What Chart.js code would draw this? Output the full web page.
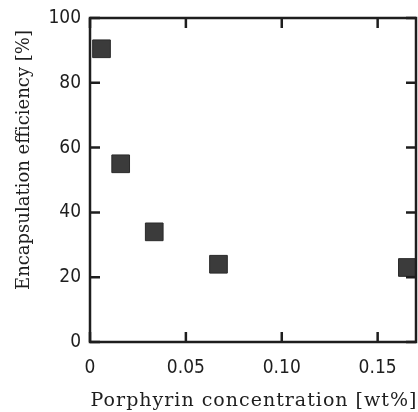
<!DOCTYPE html>
<html>
<head>
<meta charset="utf-8">
<title>Encapsulation efficiency</title>
<script src="https://cdn.jsdelivr.net/npm/chart.js@4"></script>
<style>
  html, body { margin: 0; padding: 0; background: #fff; }
  #wrap { width: 418px; height: 412px; }
</style>
</head>
<body>
<div id="wrap"><canvas id="efficiencyChart" width="418" height="412"></canvas></div>
<script>
// porphyrin loading vs encapsulation efficiency
const concentrations = [0.006, 0.016, 0.0335, 0.067, 0.1655];
const efficiencies = [90.5, 55, 34, 24, 23];

const xTicks = [0, 0.05, 0.10, 0.15];
const xTickLabels = ["0", "0.05", "0.10", "0.15"];
const yTicks = [0, 20, 40, 60, 80, 100];
const yTickLabels = ["0", "20", "40", "60", "80", "100"];

const xTitle = "Porphyrin concentration [wt%]";
const yTitle = "Encapsulation efficiency [%]";

const ink = "#1e1e1e";
const tickFont = { family: "'Liberation Sans Narrow', 'DejaVu Sans Condensed', sans-serif", size: 19 };

// box around the plot with short ticks pointing inwards on all four sides
const framePlugin = {
  id: "frame",
  afterDatasetsDraw(chart) {
    const { ctx, chartArea: a, scales } = chart;
    const len = 10;
    ctx.save();
    ctx.strokeStyle = ink;
    ctx.lineWidth = 2.5;
    ctx.strokeRect(a.left, a.top, a.right - a.left, a.bottom - a.top);
    ctx.beginPath();
    xTicks.forEach(v => {
      const px = scales.x.getPixelForValue(v);
      ctx.moveTo(px, a.bottom); ctx.lineTo(px, a.bottom - len);
      ctx.moveTo(px, a.top); ctx.lineTo(px, a.top + len);
    });
    yTicks.forEach(v => {
      const py = scales.y.getPixelForValue(v);
      ctx.moveTo(a.left, py); ctx.lineTo(a.left + len, py);
      ctx.moveTo(a.right, py); ctx.lineTo(a.right - len, py);
    });
    ctx.stroke();

    // axis titles
    ctx.fillStyle = ink;
    ctx.textAlign = "center";
    ctx.textBaseline = "alphabetic";
    ctx.font = "19px 'DejaVu Serif', 'Liberation Serif', serif";
    ctx.letterSpacing = "1px";
    ctx.fillText(xTitle, (a.left + a.right) / 2 + 1, 406);
    ctx.letterSpacing = "0px";
    ctx.font = "18px 'DejaVu Serif', 'Liberation Serif', serif";
    ctx.translate(29, 160);
    ctx.rotate(-Math.PI / 2);
    ctx.fillText(yTitle, 0, 0);
    ctx.restore();
  }
};

new Chart(document.getElementById("efficiencyChart"), {
  type: "scatter",
  data: {
    datasets: [{
      data: concentrations.map((c, i) => ({ x: c, y: efficiencies[i] })),
      pointStyle: "rect",
      pointRadius: 12.5,
      pointHoverRadius: 12.5,
      backgroundColor: "#3b3b3b",
      borderColor: "#2a2a2a",
      borderWidth: 1,
      clip: false
    }]
  },
  options: {
    responsive: false,
    animation: false,
    devicePixelRatio: 1,
    layout: { autoPadding: false, padding: { top: 18, right: 2, left: 0, bottom: 0 } },
    plugins: { legend: { display: false }, tooltip: { enabled: false } },
    scales: {
      x: {
        type: "linear",
        min: 0,
        max: 0.17,
        afterBuildTicks: s => { s.ticks = xTicks.map(v => ({ value: v })); },
        afterFit: s => { s.height = 70; s.paddingLeft = 0; s.paddingRight = 0; },
        grid: { display: false, drawTicks: false },
        border: { display: false },
        ticks: {
          color: ink,
          font: tickFont,
          padding: 15,
          maxRotation: 0,
          autoSkip: false,
          callback: (v, i) => xTickLabels[i]
        }
      },
      y: {
        min: 0,
        max: 100,
        afterBuildTicks: s => { s.ticks = yTicks.map(v => ({ value: v })); },
        afterFit: s => { s.width = 90; s.paddingTop = 0; s.paddingBottom = 0; },
        grid: { display: false, drawTicks: false },
        border: { display: false },
        ticks: {
          color: ink,
          font: tickFont,
          padding: 9,
          autoSkip: false,
          callback: (v, i) => yTickLabels[i]
        }
      }
    }
  },
  plugins: [framePlugin]
});
</script>
</body>
</html>
